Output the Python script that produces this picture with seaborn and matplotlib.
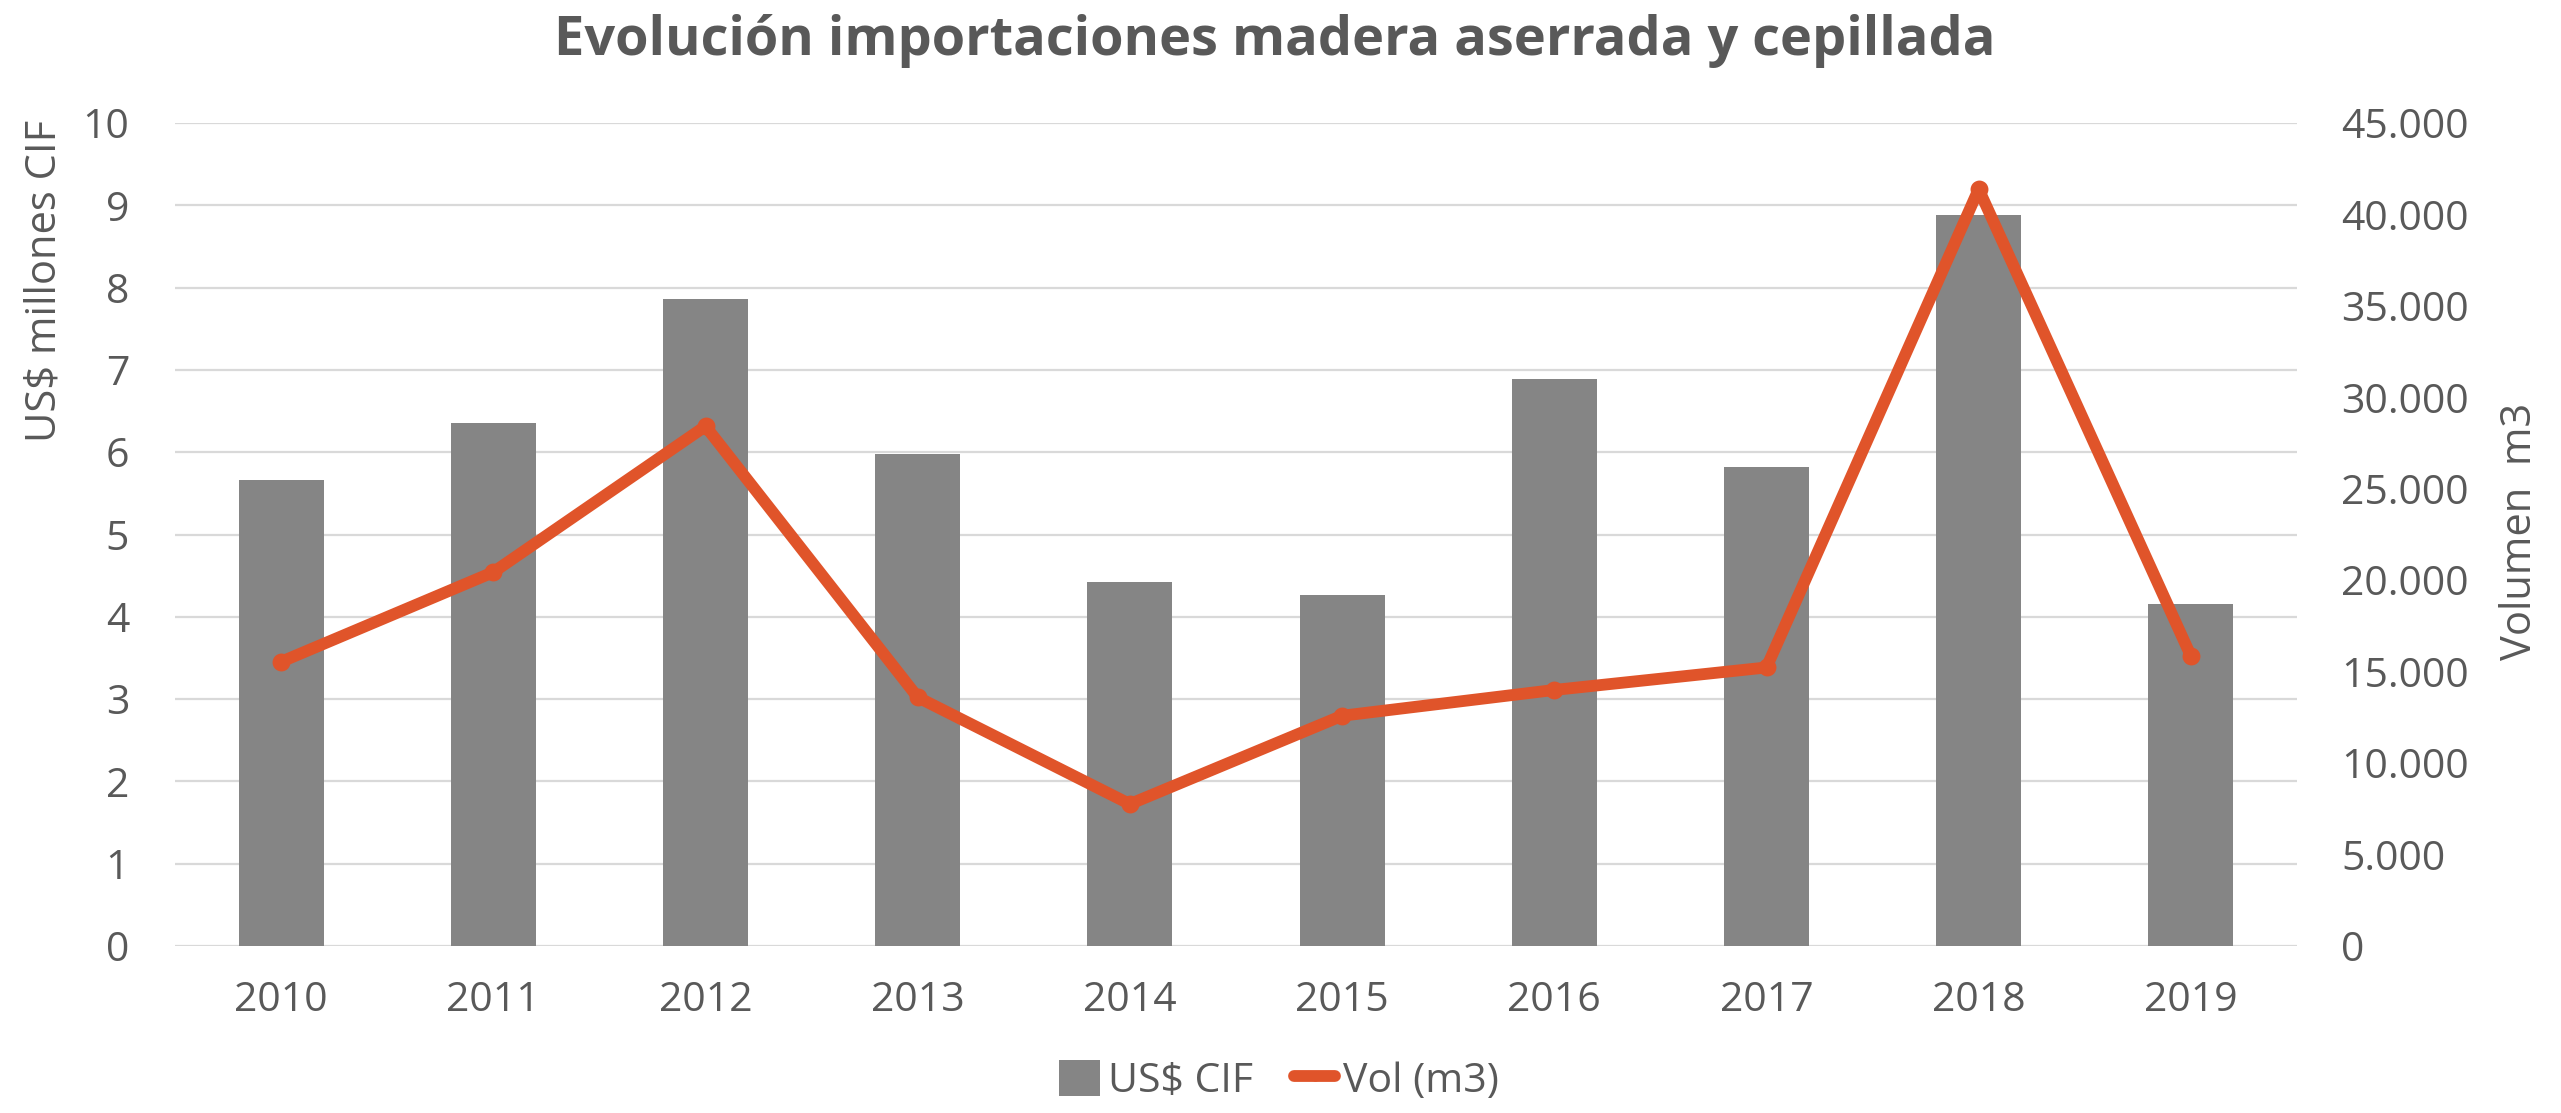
import numpy as np
import pandas as pd
import matplotlib
matplotlib.use("Agg")
import matplotlib.pyplot as plt
import seaborn as sns
from matplotlib.patches import Patch
from matplotlib.lines import Line2D
from matplotlib.ticker import FuncFormatter

# ---- data ----
years = ["2010", "2011", "2012", "2013", "2014", "2015", "2016", "2017", "2018", "2019"]
usd_cif = [5.66, 6.35, 7.86, 5.98, 4.42, 4.26, 6.89, 5.82, 8.88, 4.16]
vol_m3 = [15540, 20440, 28420, 13600, 7760, 12590, 14000, 15230, 41380, 15860]
left_ticks = [0, 1, 2, 3, 4, 5, 6, 7, 8, 9, 10]
right_ticks = [0, 5000, 10000, 15000, 20000, 25000, 30000, 35000, 40000, 45000]

title = "Evolución importaciones madera aserrada y cepillada"
left_label = "US$ millones CIF"
right_label = "Volumen  m3"
bar_name = "US$ CIF"
line_name = "Vol (m3)"

bar_color = "#858585"
line_color = "#E0542A"
text_color = "#595959"
grid_color = "#D9D9D9"

sns.set_theme(style="white")
plt.rcParams["font.family"] = ["Open Sans", "DejaVu Sans"]

df = pd.DataFrame({"year": years, "usd": usd_cif, "vol": vol_m3})

W, H = 2561, 1113
fig = plt.figure(figsize=(W / 100, H / 100), dpi=100)
ax = fig.add_axes([175 / W, 1 - 946 / H, (2297 - 175) / W, (946 - 123) / H])

sns.barplot(data=df, x="year", y="usd", ax=ax, color=bar_color, width=0.4,
            saturation=1, edgecolor="none", zorder=2)
ax.set_ylim(0, 10)
ax.set_yticks(left_ticks)
ax.set_xlim(-0.5, len(years) - 0.5)
ax.grid(axis="y", color=grid_color, linewidth=1.6, zorder=0)
ax.set_axisbelow(True)
for s in ax.spines.values():
    s.set_visible(False)
ax.set_xlabel("")
ax.set_ylabel("")
fs = 29.5
ax.tick_params(axis="y", length=0, pad=33, labelsize=fs, labelcolor=text_color)
ax.tick_params(axis="x", length=0, pad=25, labelsize=fs, labelcolor=text_color)

ax2 = ax.twinx()
sns.pointplot(data=df, x="year", y="vol", ax=ax2, color=line_color,
              markers="o", markersize=6.5, linewidth=8.5, errorbar=None)
ax2.set_ylim(0, 45000)
ax2.set_yticks(right_ticks)
ax2.yaxis.set_major_formatter(FuncFormatter(lambda v, p: f"{int(v):,}".replace(",", ".")))
ax2.set_xlim(-0.5, len(years) - 0.5)
for s in ax2.spines.values():
    s.set_visible(False)
ax2.set_xlabel("")
ax2.set_ylabel("")
ax2.grid(False)
ax2.tick_params(axis="y", length=0, pad=32, labelsize=fs, labelcolor=text_color)

fig.text(1275 / W, 1 - 41 / H, title, ha="center", va="center",
         fontsize=39, fontweight="bold", color=text_color)
fig.text(45 / W, 1 - 281 / H, left_label, rotation=90, ha="center", va="center",
         fontsize=fs + 0.5, color=text_color)
fig.text(2520 / W, 1 - 531 / H, right_label, rotation=90, ha="center", va="center",
         fontsize=fs + 0.5, color=text_color)

handles = [Patch(facecolor=bar_color, edgecolor="none", label=bar_name),
           Line2D([0], [0], color=line_color, linewidth=8.5, marker="o",
                  markersize=6.5, label=line_name)]
fig.legend(handles=handles, loc="center", bbox_to_anchor=(1279 / W, 1 - 1081 / H),
           ncol=2, frameon=False, fontsize=fs, handlelength=1.0, handleheight=1.0,
           handletextpad=0.2, columnspacing=1.0, labelcolor=text_color)

fig.savefig("out.png", dpi=100, facecolor="white")
